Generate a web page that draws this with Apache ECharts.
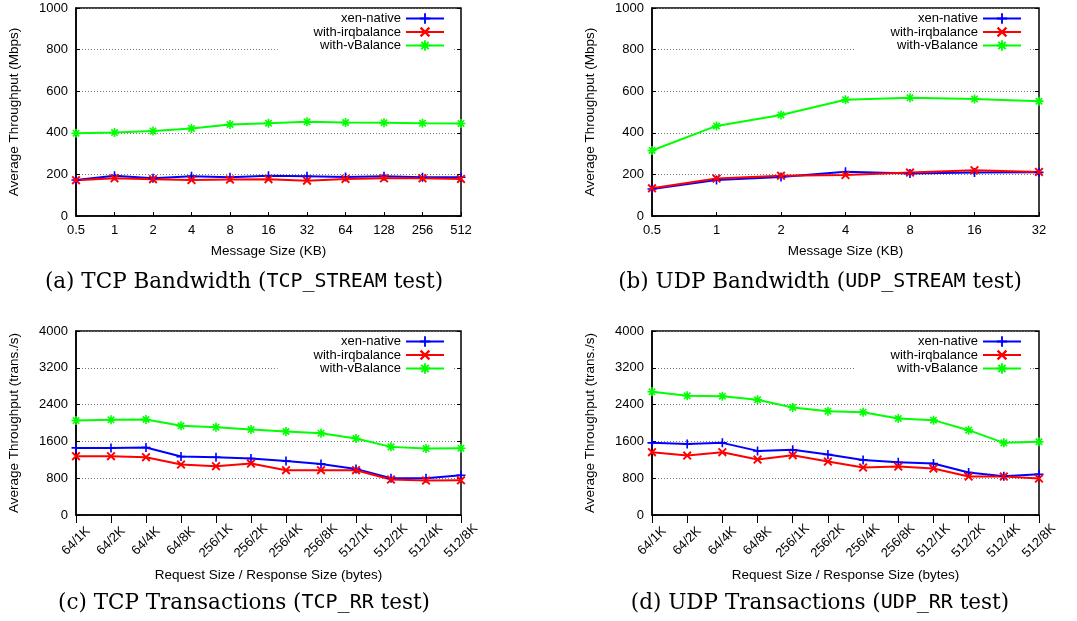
<!DOCTYPE html>
<html>
<head>
<meta charset="utf-8">
<script src="https://cdn.jsdelivr.net/npm/echarts@6/dist/echarts.min.js"></script>
<style>
  html, body { margin: 0; padding: 0; background: #fff; }
  #chart { width: 1077px; height: 621px; }
</style>
</head>
<body>
<div id="chart"></div>
<script>
// series names
var names = ['xen-native', 'with-irqbalance', 'with-vBalance'];

// (a) TCP_STREAM
var sizesA = ['0.5', '1', '2', '4', '8', '16', '32', '64', '128', '256', '512'];
var nativeA = [173, 194, 181, 191, 186, 193, 191, 188, 191, 186, 186];
var irqA    = [172, 181, 177, 173, 175, 177, 170, 178, 181, 181, 178];
var vbalA   = [398, 401, 409, 421, 440, 446, 453, 449, 448, 446, 445];

// (b) UDP_STREAM
var sizesB = ['0.5', '1', '2', '4', '8', '16', '32'];
var nativeB = [130, 173, 188, 213, 204, 209, 210];
var irqB    = [133, 180, 194, 197, 209, 220, 212];
var vbalB   = [315, 433, 486, 559, 568, 563, 552];

// (c) TCP_RR and (d) UDP_RR
var reqResp = ['64/1K', '64/2K', '64/4K', '64/8K', '256/1K', '256/2K', '256/4K', '256/8K',
               '512/1K', '512/2K', '512/4K', '512/8K'];
var nativeC = [1459, 1459, 1466, 1270, 1256, 1227, 1176, 1111, 1002, 799, 799, 864];
var irqC    = [1278, 1278, 1256, 1096, 1060, 1118, 973, 973, 973, 770, 748, 755];
var vbalC   = [2054, 2069, 2076, 1938, 1909, 1858, 1815, 1779, 1662, 1481, 1445, 1452];

var nativeD = [1568, 1546, 1568, 1394, 1416, 1314, 1198, 1147, 1118, 922, 842, 886];
var irqD    = [1365, 1292, 1365, 1205, 1299, 1162, 1031, 1053, 1009, 835, 835, 791];
var vbalD   = [2679, 2592, 2584, 2504, 2338, 2258, 2236, 2098, 2062, 1844, 1568, 1590];

var captions = [
  ['(a) TCP Bandwidth (', 'TCP_STREAM', ' test)'],
  ['(b) UDP Bandwidth (', 'UDP_STREAM', ' test)'],
  ['(c) TCP Transactions (', 'TCP_RR', ' test)'],
  ['(d) UDP Transactions (', 'UDP_RR', ' test)']
];

var colors = ['#0000ff', '#ff0000', '#00ff00'];
// gnuplot point types: +, x, *
var symbols = [
  'path://M-0.9,-5L0.9,-5L0.9,-0.9L5,-0.9L5,0.9L0.9,0.9L0.9,5L-0.9,5L-0.9,0.9L-5,0.9L-5,-0.9L-0.9,-0.9Z',
  'path://M2.9,4.172L4.172,2.9L-2.9,-4.172L-4.172,-2.9ZM4.172,-2.9L2.9,-4.172L-4.172,2.9L-2.9,4.172Z',
  'path://M2.9,4.172L4.172,2.9L-2.9,-4.172L-4.172,-2.9ZM4.172,-2.9L2.9,-4.172L-4.172,2.9L-2.9,4.172Z' +
    'M5,0.9L5,-0.9L-5,-0.9L-5,0.9ZM-0.9,5L0.9,5L0.9,-5L-0.9,-5Z'
];

var font = 'Liberation Sans, Arial, sans-serif';

var panels = [
  { grid: { left: 76, top: 8, width: 385, height: 208 }, cats: sizesA, data: [nativeA, irqA, vbalA],
    max: 1000, interval: 200, yName: 'Average Throughput (Mbps)', xName: 'Message Size (KB)', rr: false,
    legendRight: 624, legendTop: 10, cap: [244, 282] },
  { grid: { left: 652, top: 8, width: 387, height: 208 }, cats: sizesB, data: [nativeB, irqB, vbalB],
    max: 1000, interval: 200, yName: 'Average Throughput (Mbps)', xName: 'Message Size (KB)', rr: false,
    legendRight: 47, legendTop: 10, cap: [820, 282] },
  { grid: { left: 76, top: 331, width: 385, height: 184 }, cats: reqResp, data: [nativeC, irqC, vbalC],
    max: 4000, interval: 800, yName: 'Average Throughput (trans./s)', xName: 'Request Size / Response Size (bytes)', rr: true,
    legendRight: 624, legendTop: 333, cap: [244, 603] },
  { grid: { left: 652, top: 331, width: 387, height: 184 }, cats: reqResp, data: [nativeD, irqD, vbalD],
    max: 4000, interval: 800, yName: 'Average Throughput (trans./s)', xName: 'Request Size / Response Size (bytes)', rr: true,
    legendRight: 47, legendTop: 333, cap: [820, 603] }
];

var option = {
  animation: false,
  backgroundColor: '#fff',
  grid: [], xAxis: [], yAxis: [], legend: [], series: [], graphic: []
};

panels.forEach(function (p, i) {
  option.grid.push(Object.assign({ show: true, borderColor: '#000', borderWidth: 1.5, containLabel: false }, p.grid));

  option.xAxis.push({
    type: 'category', gridIndex: i, data: p.cats, boundaryGap: false,
    name: p.xName, nameLocation: 'middle', nameGap: p.rr ? 53 : 28,
    nameTextStyle: { fontFamily: font, fontSize: 13.5, color: '#000' },
    axisLine: { lineStyle: { color: '#000', width: 1.5 } },
    axisTick: { inside: !p.rr, length: p.rr ? 8 : 4, lineStyle: { color: '#000' } },
    axisLabel: p.rr
      ? { rotate: 45, align: 'center', verticalAlign: 'middle', margin: 26, fontFamily: font, fontSize: 13, color: '#000', interval: 0 }
      : { margin: 8, fontFamily: font, fontSize: 13, color: '#000', interval: 0 },
    splitLine: { show: false }
  });

  option.yAxis.push({
    type: 'value', gridIndex: i, min: 0, max: p.max, interval: p.interval,
    name: p.yName, nameLocation: 'middle', nameGap: 55,
    nameTextStyle: { fontFamily: font, fontSize: 13.5, color: '#000' },
    axisLine: { show: true, lineStyle: { color: '#000', width: 1.5 } },
    axisTick: { show: true, inside: true, length: 4, lineStyle: { color: '#000' } },
    axisLabel: { margin: 8, fontFamily: font, fontSize: 13, color: '#000',
                 formatter: function (v) { return String(v); } },
    splitLine: { show: true, lineStyle: { color: '#777', type: [1, 2], width: 1 } }
  });

  option.legend.push({
    orient: 'vertical', align: 'right', right: p.legendRight, top: p.legendTop,
    padding: [2, 8, 3, 36], backgroundColor: '#fff',
    itemWidth: 38, itemHeight: 13, itemGap: 0.5,
    textStyle: { fontFamily: font, fontSize: 13, color: '#000', lineHeight: 13 },
    data: names, selectedMode: false
  });

  p.data.forEach(function (vals, k) {
    option.series.push({
      name: names[k], type: 'line', xAxisIndex: i, yAxisIndex: i,
      data: vals, symbol: symbols[k], symbolSize: 9,
      lineStyle: { color: colors[k], width: 2 },
      itemStyle: { color: colors[k], borderWidth: 0 },
      emphasis: { disabled: true }
    });
  });

  var c = captions[i];
  option.graphic.push({
    type: 'text', x: p.cap[0], y: p.cap[1],
    style: {
      text: '{s|' + c[0] + '}{m|' + c[1] + '}{s|' + c[2] + '}',
      align: 'center', verticalAlign: 'middle',
      rich: {
        s: { fontFamily: 'DejaVu Serif, serif', fontSize: 21.5, color: '#000' },
        m: { fontFamily: 'DejaVu Sans Mono, monospace', fontSize: 20, color: '#000' }
      }
    }
  });
});

// mirror ticks on the right side of every plot
panels.forEach(function (p, i) {
  option.yAxis.push({
    type: 'value', gridIndex: i, min: 0, max: p.max, interval: p.interval, position: 'right',
    axisLine: { show: false }, axisLabel: { show: false }, splitLine: { show: false },
    axisTick: { show: true, inside: true, length: 4, lineStyle: { color: '#000' } }
  });
});

var chart = echarts.init(document.getElementById('chart'));
chart.setOption(option);
</script>
</body>
</html>
